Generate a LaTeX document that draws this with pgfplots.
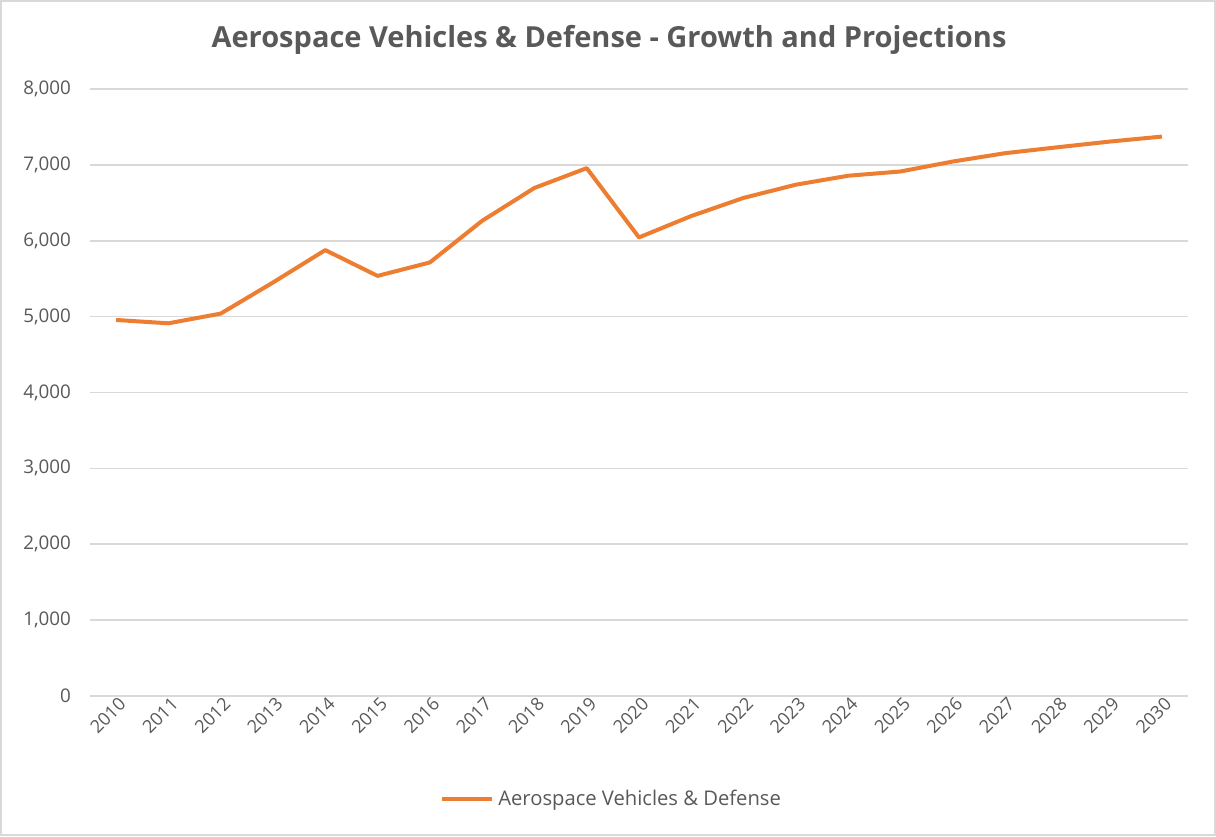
\documentclass[border=0pt]{standalone}
\usepackage{pgfplots}
\pgfplotsset{compat=1.18}
\usepackage{fontspec}
\setmainfont{Open Sans}
\definecolor{linec}{HTML}{ED7D31}
\definecolor{gridc}{HTML}{D9D9D9}
\definecolor{textc}{HTML}{595959}
\begin{document}
\begin{tikzpicture}[x=1pt,y=1pt]
\draw[gridc, line width=0.8pt, fill=white] (0.4,0.4) rectangle (607.6,417.6);
\node[text=textc, font=\fontsize{14.5}{17}\selectfont\bfseries] at (304.5,398) {Aerospace Vehicles \& Defense - Growth and Projections};
\begin{axis}[
  at={(45pt,70pt)}, anchor=south west,
  scale only axis, width=549pt, height=303.5pt,
  xmin=2009.5, xmax=2030.5, ymin=0, ymax=8000,
  xtick={2010,2011,...,2030},
  ytick={0,1000,...,8000},
  axis line style={draw=none}, tick style={draw=none},
  ymajorgrids, major grid style={gridc, line width=0.8pt},
  /pgf/number format/assume math mode=true,
  x tick label style={/pgf/number format/1000 sep={}, rotate=45, anchor=east, font=\fontsize{9}{10}\selectfont, text=textc, xshift=4pt, yshift=-4pt},
  y tick label style={/pgf/number format/1000 sep={,}, font=\fontsize{9.4}{11}\selectfont, text=textc, xshift=-6pt},
  scaled y ticks=false,
  legend style={at={(0.476,-0.17)}, anchor=center, draw=none, font=\fontsize{10.1}{12}\selectfont, text=textc, legend columns=1, inner sep=1pt},
  legend cell align=left,
  legend image code/.code={\draw[linec, line width=2pt] (0pt,0pt) -- (25pt,0pt);},
  clip=false,
]
\addplot[linec, line width=2pt, line join=round] coordinates {
(2010,4956) (2011,4912) (2012,5040) (2013,5450) (2014,5877) (2015,5537)
(2016,5714) (2017,6263) (2018,6696) (2019,6957) (2020,6044) (2021,6326)
(2022,6565) (2023,6739) (2024,6857) (2025,6913) (2026,7044) (2027,7154)
(2028,7232) (2029,7307) (2030,7373)
};
\addlegendentry{Aerospace Vehicles \& Defense}
\end{axis}
\end{tikzpicture}
\end{document}
